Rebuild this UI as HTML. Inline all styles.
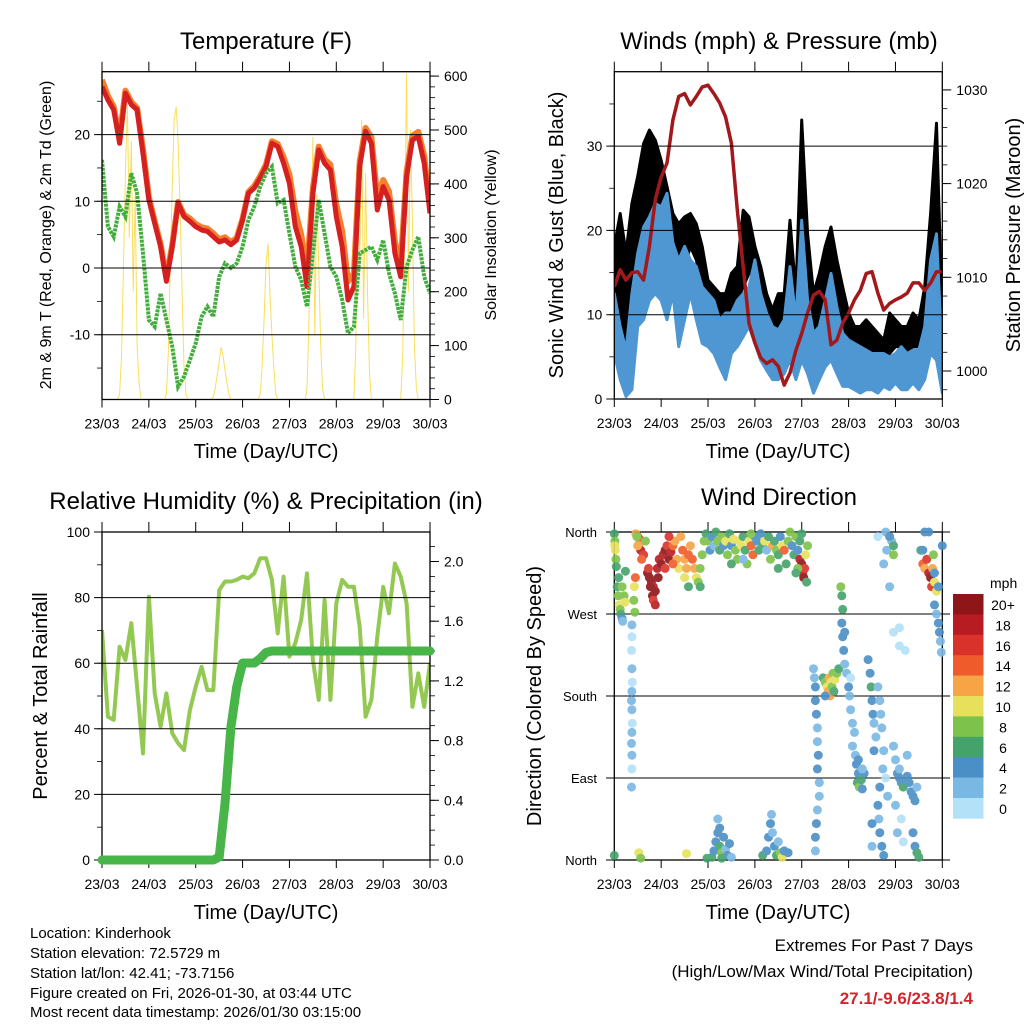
<!DOCTYPE html>
<html><head><meta charset="utf-8"><style>
html,body{margin:0;padding:0;background:#fff;}
svg{display:block;font-family:"Liberation Sans",sans-serif;}
</style></head><body>
<svg id="root" width="1024" height="1024" viewBox="0 0 1024 1024" xmlns="http://www.w3.org/2000/svg">
<defs>
<clipPath id="cT"><rect x="102" y="71.7" width="328" height="327.8"/></clipPath>
<clipPath id="cW"><rect x="614.3" y="71.7" width="328" height="327.3"/></clipPath>
<clipPath id="cR"><rect x="102" y="532" width="328" height="328"/></clipPath>
<clipPath id="cD"><rect x="608" y="526" width="340" height="340"/></clipPath>
</defs>
<g id="content"></g>
<text x="266" y="49" font-size="24" text-anchor="middle">Temperature (F)</text>
<text x="779" y="49" font-size="24" text-anchor="middle">Winds (mph) &amp; Pressure (mb)</text>
<text x="266" y="509" font-size="24" text-anchor="middle">Relative Humidity (%) &amp; Precipitation (in)</text>
<text x="779" y="505" font-size="24" text-anchor="middle">Wind Direction</text>
<text transform="translate(51,235) rotate(-90)" font-size="16" text-anchor="middle">2m &amp; 9m T (Red, Orange) &amp; 2m Td (Green)</text>
<text transform="translate(496,235) rotate(-90)" font-size="16" text-anchor="middle">Solar Insolation (Yellow)</text>
<text transform="translate(563,235) rotate(-90)" font-size="20" text-anchor="middle">Sonic Wind &amp; Gust (Blue, Black)</text>
<text transform="translate(1020,235) rotate(-90)" font-size="20" text-anchor="middle">Station Pressure (Maroon)</text>
<text transform="translate(47,696) rotate(-90)" font-size="20" text-anchor="middle">Percent &amp; Total Rainfall</text>
<text transform="translate(541,696) rotate(-90)" font-size="20" text-anchor="middle">Direction (Colored By Speed)</text>
<text x="266" y="458" font-size="20" text-anchor="middle">Time (Day/UTC)</text>
<text x="778" y="458" font-size="20" text-anchor="middle">Time (Day/UTC)</text>
<text x="266" y="919" font-size="20" text-anchor="middle">Time (Day/UTC)</text>
<text x="778" y="919" font-size="20" text-anchor="middle">Time (Day/UTC)</text>
<g font-size="15">
<text x="30" y="938">Location: Kinderhook</text>
<text x="30" y="958">Station elevation: 72.5729 m</text>
<text x="30" y="978">Station lat/lon: 42.41; -73.7156</text>
<text x="30" y="998">Figure created on Fri, 2026-01-30, at 03:44 UTC</text>
<text x="30" y="1017">Most recent data timestamp: 2026/01/30 03:15:00</text>
</g>
<text x="973" y="951" font-size="17" text-anchor="end">Extremes For Past 7 Days</text>
<text x="973" y="977" font-size="17" text-anchor="end">(High/Low/Max Wind/Total Precipitation)</text>
<text x="973" y="1004" font-size="17" font-weight="bold" fill="#d0262c" text-anchor="end">27.1/-9.6/23.8/1.4</text>
</svg>
<script>
// ---------- data (3-hourly from 23/03 00 UTC) ----------
const dayLabels = ["23/03","24/03","25/03","26/03","27/03","28/03","29/03","30/03"];
const temp2m = [27.2,25.2,23.7,18.7,26.2,24.5,23.7,17.2,10.2,6.7,3.2,-2,3.2,9.7,7.7,7,6.2,5.7,5.5,4.7,3.9,4.2,3.5,4.2,7.2,11.2,12,13.5,15.2,18.7,18.2,15.7,12.7,6.2,3.2,-2.8,11.2,17.7,15.7,14.7,7.7,3.2,-4.8,-2.8,15.2,20.5,18.7,8.7,12.2,10.2,2.2,-1.3,13.7,19.2,19.7,15.7,8.2];
const temp9m = [28.2,25.8,24.2,19.5,26.6,24.9,24.0,17.8,10.6,7.0,3.6,-1.5,3.5,9.9,8.0,7.4,6.6,6.1,5.9,5.2,4.3,4.6,3.9,4.5,7.4,11.4,12.3,13.8,15.5,19.0,18.6,16.6,14.0,8.5,5.0,-0.5,12.0,18.2,16.3,15.5,9.5,5.5,-2.0,-0.8,16.0,21.0,19.6,10.5,13.2,11.5,4.0,0.5,14.5,19.8,20.4,16.8,9.0];
const dew2m = [16.2,6.2,4.7,9.2,7.7,14.2,11.2,2.2,-7.8,-8.8,-3.8,-7.8,-11.8,-17.8,-16.3,-13.8,-11.3,-7.3,-5.8,-7.3,-1.3,0.7,0,0.7,3.2,7.2,9.2,12.2,14.2,15.2,9.7,10.2,5.2,0.2,-1.8,-5.8,2.2,10.2,5.2,0.2,-1.3,-4.8,-9.8,-8.8,2.2,2.7,3.2,1.2,4.2,-0.8,-3.8,-7.8,0.2,2.7,4.7,-1.3,-3.8];
// hourly solar insolation (W/m2), 169 values
const solar = [
0,0,0,0,0,0,0,0,0,10,80,250,420,550,300,480,200,380,100,30,0,0,0,0,
0,0,0,0,0,0,0,0,0,10,90,250,400,520,543,480,350,200,60,10,0,0,0,0,
0,0,0,0,0,0,0,0,0,5,20,45,70,97,80,55,30,10,0,0,0,0,0,0,
0,0,0,0,0,0,0,0,0,10,60,150,250,290,200,120,60,10,0,0,0,0,0,0,
0,0,0,0,0,0,0,0,0,20,150,300,487,120,380,250,100,20,0,0,0,0,0,0,
0,0,0,0,0,0,0,0,0,0,100,380,250,518,150,420,200,50,0,0,0,0,0,0,
0,0,0,0,0,0,0,0,0,0,80,300,605,200,500,330,100,20,0,0,0,0,0,0,0];
const pressure = [1009.0,1010.8,1009.7,1010.5,1010.6,1009.7,1013.3,1018.3,1020.7,1022.2,1026.8,1029.3,1029.6,1028.4,1029.3,1030.3,1030.5,1029.6,1028.6,1027.1,1024.3,1017.2,1011.1,1005.1,1003.0,1001.4,1000.8,1001.2,1000.5,998.5,999.8,1002.2,1004.0,1006.2,1008.1,1008.5,1007.6,1002.8,1003.3,1005.1,1006.2,1007.6,1008.6,1010.4,1010.6,1008.3,1006.5,1007.2,1007.6,1007.9,1008.3,1009.4,1009.4,1008.6,1009.4,1010.6,1010.6];
const windLow = [5.4,2.3,0.3,1.1,8.6,9.4,11.7,12.5,11.7,9.4,12.5,6.2,9.4,12.5,9.4,6.6,6.2,5.4,3.8,2.3,5.4,6.2,7.4,8.6,6.6,4.6,3.4,2.3,2.3,3.0,4.6,2.3,4.6,3.0,0.7,2.3,3.8,4.6,3.0,1.5,1.5,1.1,0.7,1.1,1.1,0.7,1.5,1.1,1.9,1.1,1.1,1.9,1.1,2.3,5.4,4.6,0.7];
const windHigh = [12.5,8.6,5.8,12.5,17.3,20.4,21.6,23.2,22.8,24.4,18.5,16.5,18.1,16.5,15.7,13.3,12.5,11.7,9.4,10.2,10.2,11.7,12.5,13.3,16.5,12.5,10.2,8.6,8.2,9.4,15.7,9.4,21.2,11.7,7.8,8.6,11.7,14.9,10.9,7.8,7.0,6.6,6.2,5.8,5.4,5.4,5.4,5.0,5.4,6.2,5.4,5.8,5.8,8.6,16.5,19.6,4.6];
const gustLow = [7.8,10.2,4.6,6.6,16.5,17.3,19.6,21.2,19.6,18.1,15.7,12.5,15.7,18.1,16.5,13.3,12.5,9.4,7.8,6.2,9.4,11.7,13.3,14.9,14.9,10.2,7.8,6.2,6.2,8.6,11.7,7.8,16.5,10.9,6.2,7.8,12.5,12.5,10.9,7.8,6.2,6.2,5.4,6.2,5.4,5.4,5.4,5.4,6.2,6.2,5.4,6.2,6.2,7.8,16.5,18.9,6.2];
const gustHigh = [18.1,22,17.3,23.2,26.4,30.3,31.9,30.7,28.3,25.2,22,20.8,21.6,22,20.8,18.1,14.1,13.3,12.5,12.5,14.9,15.7,22.4,21.6,18.1,15.7,12.5,10.6,12.5,12.5,21.2,12.5,33.1,19.6,12.5,14.9,18.1,20.4,16.5,13.3,10.2,8.6,8.6,9.4,8.6,7.8,7.0,10.2,9.4,8.6,8.6,10.2,9.4,13.3,22,32.7,9.4];
const rh = [70.1,43.7,42.7,65,61,72.2,52.8,32.5,80.3,50.8,40.7,50.8,38.6,35.6,33.5,45.7,52.8,58.9,51.8,51.8,82.3,84.9,84.9,85.4,86.4,85.9,87.4,92,92,85.4,69.1,86.4,62,66.1,73.2,87.4,61,48.8,79.3,48.8,78.3,85.4,83.3,83.3,71.1,43.7,48.8,68.1,83.3,75.2,90.4,86.4,78.3,46.7,56.9,46.7,60];
const precip = [0,0,0,0,0,0,0,0,0,0,0,0,0,0,0,0,0,0,0,0,0.02,0.38,0.89,1.16,1.32,1.32,1.32,1.35,1.39,1.4,1.4,1.4,1.4,1.4,1.4,1.4,1.4,1.4,1.4,1.4,1.4,1.4,1.4,1.4,1.4,1.4,1.4,1.4,1.4,1.4,1.4,1.4,1.4,1.4,1.4,1.4,1.4];
// wind direction observations: [hour, degrees, mph]
const dirObs = [
[0,358,6],[0.3,350,8],[0.5,340,10],[0.8,330,9],[1,322,7],[0.2,345,11],[1.5,300,6],[2,290,8],[2.5,280,10],[3,275,9],[3.3,270,6],[2.2,310,7],[4,265,5],[4.3,262,3],
[9,258,2],[9,245,1],[8.8,230,1],[9,210,2],[9.2,195,1],[9,185,3],[8.8,175,2],[9,165,3],[9.2,150,1],[9,140,3],[8.8,128,3],[9,115,2],[9,100,1],[8.8,80,2],
[4,300,9],[5,290,8],[5.5,283,10],[10.3,300,10],[10,285,8],[10.5,272,9],[5.7,317,6],[10.8,310,15],
[11,358,12],[12,355,14],[13,352,16],[14,350,14],[12.5,345,13],[13.5,340,18],[15,335,16],[14,330,14],[12,345,12],[11.5,355,8],[16,350,8],
[17,315,20],[18,310,20],[19,305,20],[20,300,18],[21,295,20],[19.5,290,20],[18.5,300,22],[22,320,18],[20,285,16],[21,280,18],[17.5,320,16],[23,330,18],[22.5,310,20],
[24,325,20],[25,335,18],[26,340,20],[27,345,16],[28,330,20],[29,338,18],[30,345,14],[31,350,12],[32,330,12],[33,320,10],[26,320,16],[28,355,16],[30,325,14],
[34,355,12],[35,340,14],[36,330,12],[37,320,13],[38,335,14],[39,345,12],[40,330,14],[41,320,12],[42,310,10],[43,305,8],[44,320,8],[45,335,9],[44,300,7],[46,350,8],[36,310,11],[38,300,6],
[47,358,7],[48,350,8],[49,340,5],[50,355,4],[51,345,3],[52,360,6],[53,350,9],[54,340,7],[55,355,8],[56,345,4],[57,350,10],[58,335,9],[59,358,6],[60,345,5],[61,352,11],[62,340,9],[63,330,8],[64,350,10],[65,345,10],[66,355,7],[67,340,6],[68,325,8],[69,350,10],[70,345,14],[71,335,15],[72,355,5],[73,350,4],[74,340,6],[75,358,5],[76,345,7],[77,350,10],[78,340,3],[79,355,6],[80,330,8],[81,345,12],[82,350,6],[83,340,9],[84,335,7],[85,355,4],[86,345,10],[87,340,14],[88,325,6],[89,350,8],[90,360,9],[91,345,5],[92,335,7],[93,355,8],[94,340,4],[95,350,6],[96,358,7],[66,330,3],[84,320,6],[70,358,9],[60,325,6],
[95,330,18],[96,325,20],[96.5,315,18],[97,310,20],[97.5,320,16],[98,335,10],[99,345,8],[98.5,305,6],[94,320,8],[93,315,6],
[50,3,6],[51,10,5],[52,20,4],[53,30,5],[53,45,2],[54,15,6],[55,8,8],[56,25,4],[57,12,3],[58,5,5],[59,18,4],[60,3,3],[54,35,4],[55,2,6],
[76,5,6],[78,10,5],[79,25,4],[80,40,4],[80.5,50,3],[81,30,3],[82,15,4],[83,5,6],[84,20,3],[85,8,8],[86,3,10],[87,10,4],[89,8,4],
[0,5,6],[12.5,8,11],[13.5,2,8],[37,7,11],[47.5,2,6],
[102,210,2],[102.5,200,3],[103,190,4],[103,175,4],[103.5,160,4],[104,145,3],[104,130,3],[104.5,115,4],[104,100,4],[105,85,3],[105,70,2],[104,55,2],[103.5,40,4],[103,25,4],[103,10,2],
[107,200,6],[108,195,8],[109,190,10],[109.5,185,12],[110,200,12],[110.5,180,12],[111,195,10],[111.5,190,8],[112,205,8],[112.5,185,6],[113,198,10],[114,205,8],[115,210,6],[108,180,4],
[116,300,8],[116.5,290,6],[117,275,6],[116.5,260,4],[117,245,4],[117.5,230,4],[118,215,3],[118,250,4],
[119,205,3],[120,190,4],[120.5,180,2],[121,165,3],[122,150,2],[123,140,2],[122,125,2],[123.5,115,3],[124,105,4],[125,95,4],[126,90,4],[124.5,85,6],[125.5,80,8],[126.5,88,6],[127,78,4],[128,95,4],[125,110,4],[127,100,3],[121,200,1],
[130,220,4],[131,205,4],[131.5,190,6],[132,175,4],[132.5,160,4],[133,150,3],[134,135,3],[133,120,4],[135,190,2],[136,175,2],[136.5,160,2],[137,145,3],[138,120,2],[137.5,100,3],[136,80,4],[135,60,4],[135.5,45,3],[136,30,4],[137,15,4],[138,5,4],[132,40,4],[132,15,2],[139,90,1],[140,70,2],
[143,125,3],[144,110,3],[145,95,4],[146,90,4],[147,85,4],[148,80,6],[149,88,4],[150,92,4],[151,85,4],[152,75,4],[153,70,4],[154,65,4],[146,100,2],[150,115,2],[155,80,2],[144,60,2],[147,45,1],[145,30,3],[148,20,1],[153,30,4],[154,15,4],[155,8,6],[156,3,7],
[135,355,1],[139,360,2],[139.5,340,3],[142,350,2],[143,335,8],[143,345,7],[141,300,2],[143,250,1],[146,255,1],[146,235,1],[149,230,1],[138,325,3],[141,355,4],
[157,340,7],[158,325,14],[159,320,12],[160,330,16],[161,315,18],[162,310,20],[162.5,300,16],[163,320,12],[164,305,10],[165,295,10],[163.5,335,8],[164,315,4],
[164,280,4],[165,270,3],[166,260,4],[166.5,250,4],[167,240,3],[167.5,228,2],[168,345,4],[166,300,4],[159,360,4],[161,360,4],[158,340,4]];
const speedBins = ["0","2","4","6","8","10","12","14","16","18","20+"];
const binColors = ["#b3e1f7","#7ab8e4","#4a8fc6","#44a36a","#7dc24a","#e6e05a","#f6a445","#ef5b2a","#d9322a","#b71c22","#8e1518"];
const tempTicks = [-10,0,10,20];
const solarTicks = [0,100,200,300,400,500,600];
const windTicks = [0,10,20,30];
const presTicks = [1000,1010,1020,1030];
const rhTicks = [0,20,40,60,80,100];
const prTicks = [0,0.4,0.8,1.2,1.6,2.0];
const dirTicks = [0,90,180,270,360];
const dirNames = ["North","East","South","West","North"];

// ---------- scales ----------
const DAYPX = 46.86;
const xT = h => 102 + h / 24 * DAYPX;
const xW = h => 614.3 + h / 24 * DAYPX;
const yTemp = v => 268 - v * 6.67;
const ySolar = v => 399.5 - v * 0.539;
const yWind = v => 399 - v * 8.43;
const yPres = p => 371 - (p - 1000) * 9.37;
const yRH = v => 860 - v * 3.28;
const yPr = v => 860 - v * 149.25;
const yDir = d => 860 - d * 328 / 360;

const NS = "http://www.w3.org/2000/svg";
const root = document.getElementById('content');
function el(tag, attrs, parent) {
  const e = document.createElementNS(NS, tag);
  for (const k in attrs) e.setAttribute(k, attrs[k]);
  (parent || root).appendChild(e);
  return e;
}
function pathFrom(vals, xf, yf, step) {
  return vals.map((v, i) => (i ? 'L' : 'M') + xf(i * step).toFixed(1) + ',' + yf(v).toFixed(1)).join('');
}
function bandFrom(lo, hi, xf, yf, step) {
  let d = hi.map((v, i) => (i ? 'L' : 'M') + xf(i * step).toFixed(1) + ',' + yf(v).toFixed(1)).join('');
  for (let i = lo.length - 1; i >= 0; i--) d += 'L' + xf(i * step).toFixed(1) + ',' + yf(lo[i]).toFixed(1);
  return d + 'Z';
}
function frame(x0, y0, w, h, name) {
  const g = el('g', {});
  
  
  for (let i = 0; i < dayLabels.length; i++) {
    const x = x0 + i * DAYPX;
    el('line', {x1: x, x2: x, y1: y0 - 10, y2: y0, stroke: '#000', 'stroke-width': 1}, g);
    el('line', {x1: x, x2: x, y1: y0 + h, y2: y0 + h + 8, stroke: '#000', 'stroke-width': 1}, g);
    const t = el('text', {x: x, y: y0 + h + 29, 'font-size': 14, 'text-anchor': 'middle'}, g);
    
    
    t.textContent = dayLabels[i];
  }
  const r = el('rect', {x: x0, y: y0, width: w, height: h, fill: 'none', stroke: '#000', 'stroke-width': 1.3}, g);
  
  
  return g;
}
function leftAxis(g, x0, w, ticks, yf, labels, grid, minorStep, name) {
  ticks.forEach((v, i) => {
    const y = yf(v);
    if (grid) el('line', {x1: x0 - 8, x2: x0 + w, y1: y, y2: y, stroke: '#000', 'stroke-width': 1}, g);
    else el('line', {x1: x0 - 8, x2: x0, y1: y, y2: y, stroke: '#000', 'stroke-width': 1}, g);
    const t = el('text', {x: x0 - 12, y: y + 5, 'font-size': 14, 'text-anchor': 'end'}, g);
    
    
    t.textContent = labels[i];
  });
  if (minorStep) {
    for (let v = ticks[0] - minorStep * 4; v <= ticks[ticks.length - 1] + minorStep * 4; v += minorStep) {
      const y = yf(v);
      if (y < g._top || y > g._bot) continue;
      el('line', {x1: x0 - 5, x2: x0, y1: y, y2: y, stroke: '#000', 'stroke-width': 0.8}, g);
    }
  }
}
function rightAxis(g, xr, ticks, yf, labels, minorStep, name) {
  ticks.forEach((v, i) => {
    const y = yf(v);
    el('line', {x1: xr, x2: xr + 9, y1: y, y2: y, stroke: '#000', 'stroke-width': 1}, g);
    const t = el('text', {x: xr + 14, y: y + 5, 'font-size': 14}, g);
    
    
    t.textContent = labels[i];
  });
  for (let v = ticks[0] - minorStep * 6; v <= ticks[ticks.length - 1] + minorStep * 6; v += minorStep) {
    const y = yf(v);
    if (y < g._top || y > g._bot) continue;
    el('line', {x1: xr, x2: xr + 5, y1: y, y2: y, stroke: '#000', 'stroke-width': 0.8}, g);
  }
}

// ---------- Panel 1: temperature ----------
const gT = el('g', {'clip-path': 'url(#cT)'});


const pS = el('path', {d: pathFrom(solar, xT, ySolar, 1), fill: 'none', stroke: '#f7dc4a', 'stroke-width': 1, opacity: 0.9}, gT);


const p9 = el('path', {d: pathFrom(temp9m, xT, yTemp, 3), fill: 'none', stroke: '#f47f2c', 'stroke-width': 6, 'stroke-linejoin': 'round'}, gT);


const p2 = el('path', {d: pathFrom(temp2m, xT, yTemp, 3), fill: 'none', stroke: '#d42020', 'stroke-width': 5, 'stroke-linejoin': 'round'}, gT);


const pD = el('path', {d: pathFrom(dew2m, xT, yTemp, 3), fill: 'none', stroke: '#42ad3c', 'stroke-width': 4, 'stroke-dasharray': '3 1'}, gT);


const aT = frame(102, 71.7, 328, 327.8, 'temperature');
aT._top = 71.7; aT._bot = 399.5;
leftAxis(aT, 102, 328, tempTicks, yTemp, tempTicks.map(String), true, 5, 'temperature-y');
rightAxis(aT, 430, solarTicks, ySolar, solarTicks.map(String), 20, 'solar-y');

// ---------- Panel 2: winds ----------
const gW = el('g', {'clip-path': 'url(#cW)'});


const bG = el('path', {d: bandFrom(gustLow, gustHigh, xW, yWind, 3), fill: '#000', stroke: '#000', 'stroke-width': 3, 'stroke-linejoin': 'round'}, gW);


const bW = el('path', {d: bandFrom(windLow, windHigh, xW, yWind, 3), fill: '#4f97d2', stroke: '#4f97d2', 'stroke-width': 3, 'stroke-linejoin': 'round'}, gW);


const pP = el('path', {d: pathFrom(pressure, xW, yPres, 3), fill: 'none', stroke: '#a3191b', 'stroke-width': 3.5, 'stroke-linejoin': 'round'}, gW);


const aW = frame(614.3, 71.7, 328, 327.3, 'winds');
aW._top = 71.7; aW._bot = 399;
leftAxis(aW, 614.3, 328, windTicks, yWind, windTicks.map(String), true, 5, 'wind-y');
rightAxis(aW, 942.3, presTicks, yPres, presTicks.map(String), 2, 'pressure-y');

// ---------- Panel 3: humidity ----------
const gR = el('g', {'clip-path': 'url(#cR)'});


const aR = frame(102, 532, 328, 328, 'humidity');
aR._top = 532; aR._bot = 860;
leftAxis(aR, 102, 328, rhTicks, yRH, rhTicks.map(String), true, 10, 'humidity-y');
rightAxis(aR, 430, prTicks, yPr, prTicks.map(v => v.toFixed(1)), 0.1, 'precip-y');
const pR = el('path', {d: pathFrom(rh, xT, yRH, 3), fill: 'none', stroke: '#93c953', 'stroke-width': 4, 'stroke-linejoin': 'round'}, gR);


const pPr = el('path', {d: pathFrom(precip, xT, yPr, 3), fill: 'none', stroke: '#47b547', 'stroke-width': 9, 'stroke-linejoin': 'round', 'stroke-linecap': 'round'});



// ---------- Panel 4: wind direction ----------
const aD = frame(614.3, 532, 328, 328, 'direction');
aD._top = 532; aD._bot = 860;
dirTicks.forEach((v, i) => {
  const y = yDir(v);
  el('line', {x1: 606, x2: 950, y1: y, y2: y, stroke: '#000', 'stroke-width': 1}, aD);
  const t = el('text', {x: 597, y: y + 5, 'font-size': 13, 'text-anchor': 'end'}, aD);
  
  
  t.textContent = dirNames[i];
});
const gD = el('g', {'clip-path': 'url(#cD)', opacity: 0.9});


dirObs.forEach(o => {
  const b = Math.min(10, Math.floor(o[2] / 2));
  const c = el('circle', {cx: xW(o[0]).toFixed(1), cy: yDir(o[1]).toFixed(1), r: 4.5, fill: binColors[b]}, gD);
  
  
});
// colorbar
const gC = el('g', {});


const cbTop = 594, cbH = 20.4;
const mt = el('text', {x: 990, y: 588, 'font-size': 14}, gC);


mt.textContent = 'mph';
speedBins.forEach((lab, i) => {
  const k = speedBins.length - 1 - i;
  const r = el('rect', {x: 953, y: cbTop + i * cbH, width: 30.5, height: cbH + 0.3, fill: binColors[k]}, gC);
  
  
  const t = el('text', {x: 1003, y: cbTop + i * cbH + 16, 'font-size': 14, 'text-anchor': 'middle'}, gC);
  
  
  t.textContent = speedBins[k];
});
</script>
</body></html>
